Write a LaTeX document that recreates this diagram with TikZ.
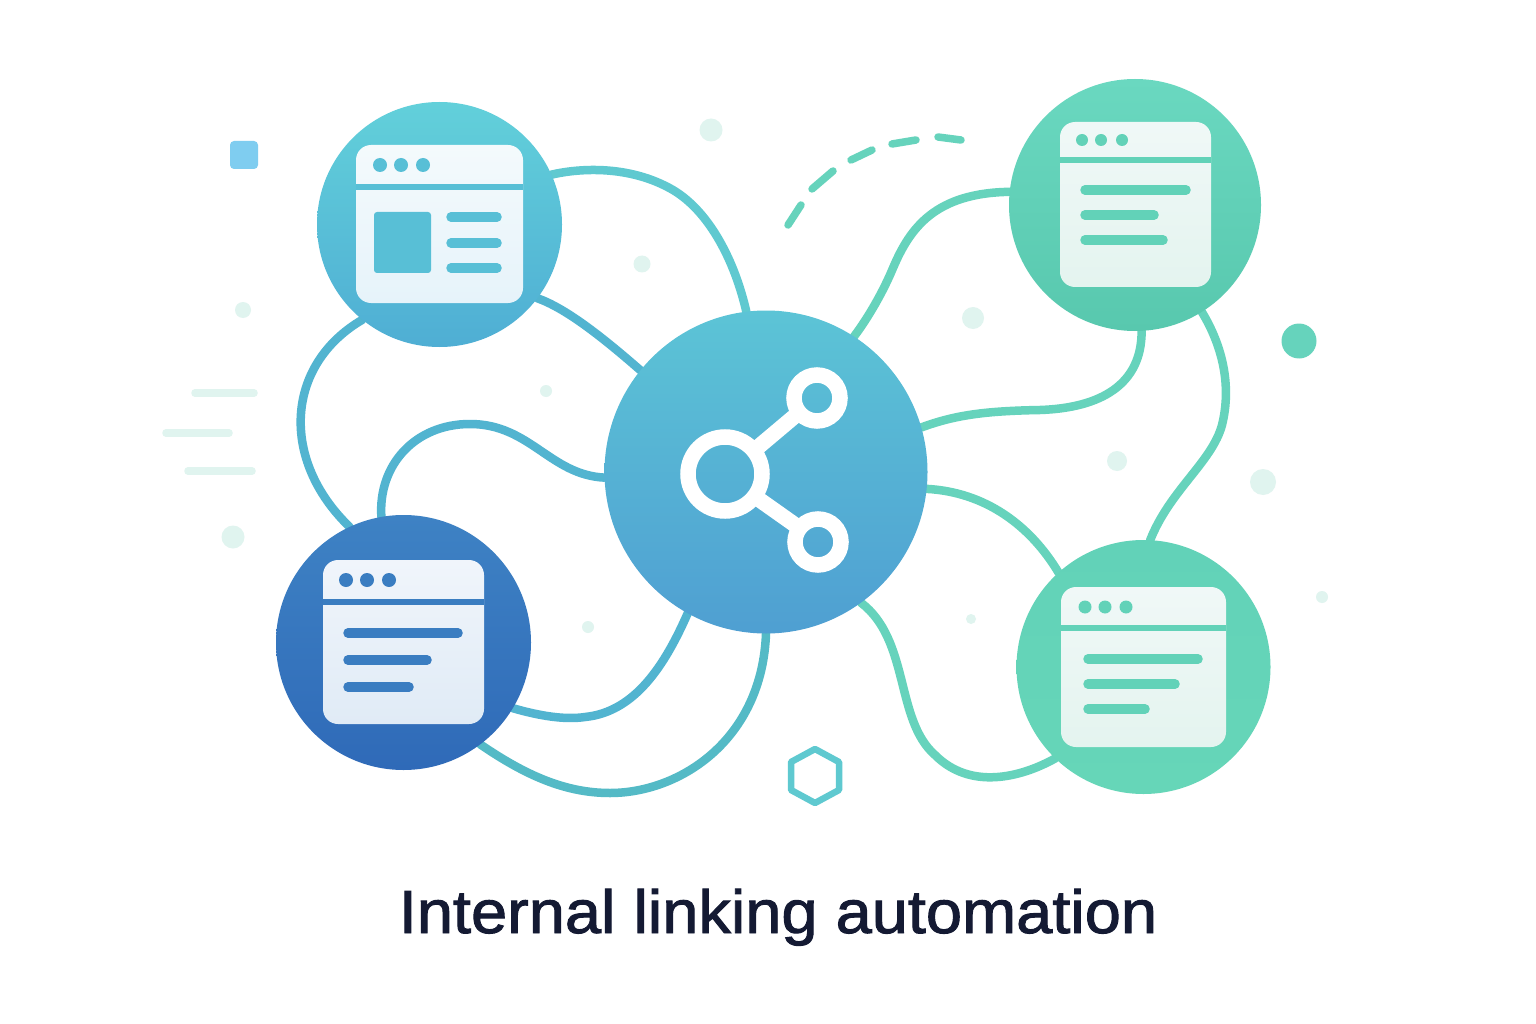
\documentclass[tikz,border=0pt]{standalone}
\usepackage{fontspec}
\setmainfont{Liberation Sans}
\newfontfamily\titlefont[FakeStretch=1.065,FakeBold=1.6]{Liberation Sans}
\pgfdeclarelayer{bg}
\pgfsetlayers{bg,main}
\definecolor{linkblue}{HTML}{52B4D0}
\definecolor{linkteal}{HTML}{5FC9D0}
\definecolor{linkarc}{HTML}{54BAC6}
\definecolor{linkgreen}{HTML}{66D3BC}
\definecolor{paleDot}{HTML}{E0F4EF}
\definecolor{cardA}{HTML}{58BFD6}
\definecolor{cardB}{HTML}{3A7DC1}
\definecolor{cardG}{HTML}{62D2B8}
\definecolor{titleInk}{HTML}{141A33}
\tikzset{
  disc/.style={circle,minimum size=#1,inner sep=0pt,outer sep=0pt},
  link/.style={line width=8.5pt,line cap=round},
  blue link/.style={link,draw=linkblue},
  teal link/.style={link,draw=linkteal},
  arc link/.style={link,draw=linkarc},
  green link/.style={link,draw=linkgreen},
  card/.style={rectangle,rounded corners=15pt,inner sep=0pt,outer sep=0pt},
  bar/.style={line width=9.5pt,line cap=round},
  head/.style={line width=6.5pt},
  dot/.style={circle,fill=paleDot,inner sep=0pt,minimum size=#1},
  ring/.style={circle,draw=white,inner sep=0pt,outer sep=0pt,line width=15.5pt,minimum size=#1},
  stripe/.style={line width=7.5pt,line cap=round,draw=paleDot},
  dash seg/.style={line width=7.5pt,line cap=round,draw=linkgreen},
}
\begin{document}
\begin{tikzpicture}[x=1pt,y=-1pt]
\useasboundingbox (0,0) rectangle (1536,1024);

% main discs
\node[disc=245pt,top color={rgb,255:red,98;green,208;blue,218},bottom color={rgb,255:red,79;green,174;blue,212}] (A) at (439.5,224.5) {};
\node[disc=255pt,top color={rgb,255:red,62;green,130;blue,196},bottom color={rgb,255:red,47;green,106;blue,184}] (B) at (403.5,642.5) {};
\node[disc=323pt,top color={rgb,255:red,92;green,196;blue,214},bottom color={rgb,255:red,79;green,159;blue,210}] (H) at (766,472) {};
\node[disc=252pt,top color={rgb,255:red,106;green,216;blue,192},bottom color={rgb,255:red,88;green,200;blue,174}] (C) at (1135,205) {};
\node[disc=254pt,top color=cardG,bottom color={rgb,255:red,102;green,214;blue,184}] (D) at (1143.5,667) {};

% connectors
\begin{pgfonlayer}{bg}
\fill[white] (0,0) rectangle (1536,1024);
\draw[teal link] (A.24) .. controls (580,168) and (630,165) .. (673,190) .. controls (710,212) and (735,262) .. (H.97);
\draw[blue link] (A.-37) .. controls (565,308) and (600,335) .. (H.141);
\draw[blue link] (A.231) .. controls (285,365) and (280,460) .. (B.115);
\draw[blue link] (B.100) .. controls (378,465) and (415,424) .. (470,424) .. controls (530,424) and (550,475) .. (H.182);
\draw[blue link] (B.-31) .. controls (540,716) and (565,720) .. (585,717) .. controls (635,712) and (665,665) .. (H.241);
\draw[arc link] (B.-53.5) .. controls (525,775) and (565,793) .. (610,793) .. controls (680,793) and (762,740) .. (H.270);
\draw[green link] (H.57.6) .. controls (868,318) and (883,292) .. (893,268) .. controls (910,228) and (935,193) .. (C.174);
\draw[green link] (H.16) .. controls (955,415) and (985,411) .. (1040,410) .. controls (1100,408) and (1142,385) .. (C.-87);
\draw[green link] (C.-58.7) .. controls (1222,345) and (1232,385) .. (1222,425) .. controls (1212,462) and (1170,490) .. (D.87);
\draw[green link] (H.-6.5) .. controls (985,492) and (1030,525) .. (D.132);
\draw[green link] (H.-54.6) .. controls (910,640) and (895,720) .. (935,755) .. controls (970,790) and (1020,778) .. (D.226);
\end{pgfonlayer}

% share icon
\node[ring=74pt] (R1) at (725,474) {};
\node[ring=46pt] (R2) at (817,398) {};
\node[ring=46pt] (R3) at (818,542) {};
\draw[white,line width=15.5pt] (R1.39) -- (R2.219);
\draw[white,line width=15.5pt] (R1.-37) -- (R3.143);

% card A
\node[card,top color={rgb,255:red,244;green,250;blue,252},bottom color={rgb,255:red,230;green,243;blue,250},minimum width=167pt,minimum height=158pt] (CA) at (439.5,224) {};
\draw[head,cardA] (CA.west |- 0,187) -- (CA.east |- 0,187);
\foreach \x in {380,401,423} \fill[cardA] (\x,165) circle (7);
\fill[cardA,rounded corners=3pt] (374,212) rectangle (431,273);
\draw[bar,cardA] (451,217) -- (497,217);
\draw[bar,cardA] (451,243) -- (497,243);
\draw[bar,cardA] (451,268) -- (497,268);

% card B
\node[card,top color={rgb,255:red,240;green,245;blue,251},bottom color={rgb,255:red,224;green,235;blue,246},minimum width=161pt,minimum height=164pt] (CB) at (403.5,642) {};
\draw[head,cardB] (CB.west |- 0,602) -- (CB.east |- 0,602);
\foreach \x in {346,367,389} \fill[cardB] (\x,580) circle (7);
\draw[bar,cardB] (348,633) -- (458,633);
\draw[bar,cardB] (348,660) -- (427,660);
\draw[bar,cardB] (348,687) -- (409,687);

% card C
\node[card,top color={rgb,255:red,240;green,248;blue,247},bottom color={rgb,255:red,228;green,244;blue,239},minimum width=151pt,minimum height=165pt] (CC) at (1135.5,204.5) {};
\draw[head,cardG] (CC.west |- 0,160) -- (CC.east |- 0,160);
\foreach \x in {1082,1101,1122} \fill[cardG] (\x,140) circle (6);
\draw[bar,cardG] (1085,190) -- (1186,190);
\draw[bar,cardG] (1085,215) -- (1154,215);
\draw[bar,cardG] (1085,240) -- (1163,240);

% card D
\node[card,top color={rgb,255:red,240;green,248;blue,247},bottom color={rgb,255:red,228;green,244;blue,239},minimum width=165pt,minimum height=160pt] (CD) at (1143.5,667) {};
\draw[head,cardG] (CD.west |- 0,628) -- (CD.east |- 0,628);
\foreach \x in {1085,1105,1126} \fill[cardG] (\x,607) circle (6.5);
\draw[bar,cardG] (1088,659) -- (1198,659);
\draw[bar,cardG] (1088,684) -- (1175,684);
\draw[bar,cardG] (1088,709) -- (1145,709);

% dashed arc
\draw[dash seg] (788,225) -- (801,205);
\draw[dash seg] (812,189) -- (833,171);
\draw[dash seg] (851,160) -- (872,150);
\draw[dash seg] (892,144) -- (916,140);
\draw[dash seg] (938,137) -- (961,140);

% decoration
\node[dot=23pt] (d1) at (711,130) {};
\node[dot=17pt] (d2) at (642,264) {};
\node[dot=16pt] (d3) at (243,310) {};
\node[dot=12pt] (d4) at (546,391) {};
\node[dot=23pt] (d5) at (233,537) {};
\node[dot=12pt] (d6) at (588,627) {};
\node[dot=22pt] (d7) at (973,318) {};
\node[dot=20pt] (d8) at (1117,461) {};
\node[dot=26pt] (d9) at (1263,482) {};
\node[dot=12pt] (d10) at (1322,597) {};
\node[dot=10pt] (d11) at (971,619) {};
\node[dot=35pt,fill=linkgreen] (d12) at (1299,341) {};
\fill[rounded corners=4pt,fill={rgb,255:red,127;green,205;blue,240}] (230,141) rectangle (258,169);
\draw[stripe] (195,393) -- (254,393);
\draw[stripe] (166,433) -- (229,433);
\draw[stripe] (188,471) -- (252,471);
\draw[line width=6.5pt,draw=linkteal,line join=round] (815,749) -- (839,762) -- (839,790) -- (815,803) -- (791,790) -- (791,762) -- cycle;

% title
\node[text=titleInk,inner sep=0pt,anchor=base] (title) at (778,933) {\fontsize{61}{70}\selectfont\titlefont Internal linking automation};
\end{tikzpicture}
\end{document}
